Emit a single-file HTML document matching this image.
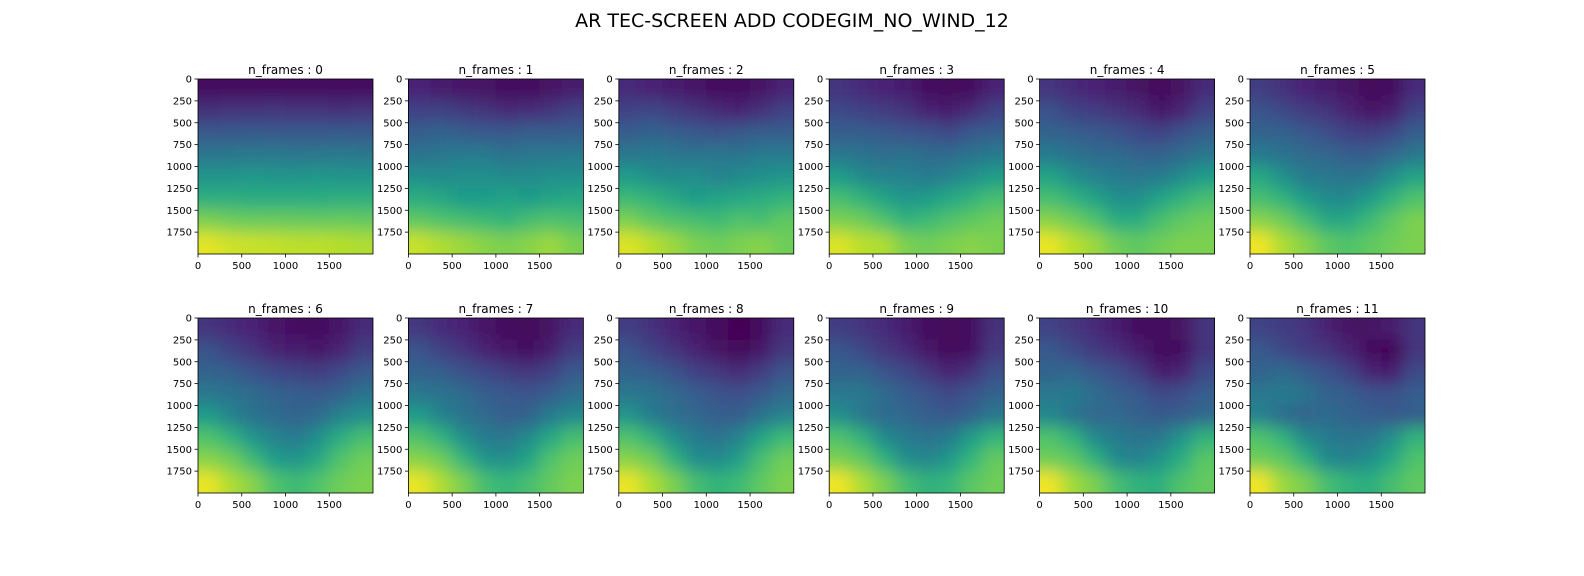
<!DOCTYPE html>
<html><head><meta charset="utf-8"><style>
html,body{margin:0;padding:0;background:#fff;}
svg{display:block;font-family:"DejaVu Sans","Liberation Sans",sans-serif;}
</style></head><body>
<svg id="fig" width="1584" height="576" viewBox="0 0 1584 576" xmlns="http://www.w3.org/2000/svg">
<rect width="1584" height="576" fill="#fff"/>
<text x="792" y="27" text-anchor="middle" font-size="19">AR TEC-SCREEN ADD CODEGIM_NO_WIND_12</text>
<defs><filter id="bl" x="-20%" y="-20%" width="140%" height="140%"><feGaussianBlur stdDeviation="8"/></filter></defs>
</svg>
<script>
const frameLabels=[0,1,2,3,4,5,6,7,8,9,10,11];
const yTicks=[0,250,500,750,1000,1250,1500,1750];
const xTicks=[0,500,1000,1500];
const f0=[[.03,.03,.03,.04,.03,.03,.03,.04],[.14,.15,.15,.16,.15,.15,.14,.15],[.28,.28,.29,.28,.28,.28,.29,.28],[.4,.4,.41,.41,.4,.4,.41,.4],[.52,.52,.53,.52,.52,.53,.52,.52],[.63,.63,.62,.62,.62,.62,.63,.63],[.8,.78,.77,.77,.77,.76,.77,.76],[.96,.93,.92,.91,.9,.9,.89,.88]];
const f1=[[.1,.08,.06,.05,.03,.03,.05,.08],[.2,.2,.17,.15,.12,.13,.15,.2],[.3,.32,.3,.28,.28,.3,.3,.3],[.38,.4,.42,.42,.38,.4,.4,.42],[.5,.48,.5,.5,.48,.48,.5,.5],[.62,.6,.55,.55,.58,.55,.58,.6],[.75,.72,.7,.68,.65,.7,.72,.7],[.92,.88,.85,.82,.8,.82,.85,.8]];
const f2=[[.12,.1,.08,.06,.03,.04,.05,.1],[.2,.22,.18,.15,.12,.1,.14,.2],[.3,.32,.3,.28,.26,.28,.3,.3],[.4,.42,.4,.38,.4,.38,.42,.42],[.55,.5,.48,.5,.45,.48,.5,.52],[.68,.65,.6,.55,.58,.6,.62,.65],[.8,.75,.72,.7,.68,.72,.7,.75],[.95,.9,.85,.8,.78,.8,.82,.78]];
const f3=[[.15,.12,.1,.08,.04,.02,.04,.1],[.22,.2,.18,.15,.1,.08,.12,.2],[.3,.3,.28,.26,.25,.22,.28,.3],[.4,.38,.36,.38,.35,.35,.38,.42],[.55,.48,.45,.45,.42,.45,.5,.55],[.7,.65,.58,.52,.55,.6,.65,.7],[.8,.78,.72,.65,.68,.72,.75,.78],[.95,.9,.88,.8,.78,.8,.82,.8]];
const f4=[[.15,.12,.1,.08,.05,.02,.05,.12],[.25,.2,.18,.15,.12,.06,.1,.2],[.32,.3,.28,.25,.22,.2,.25,.3],[.42,.38,.35,.35,.32,.32,.35,.4],[.58,.5,.45,.42,.4,.42,.48,.55],[.7,.65,.58,.5,.5,.58,.65,.7],[.82,.78,.72,.62,.62,.7,.75,.78],[.97,.9,.85,.78,.75,.78,.8,.8]];
const f5=[[.18,.14,.1,.08,.05,.02,.04,.12],[.26,.22,.18,.15,.1,.05,.08,.2],[.32,.32,.28,.24,.2,.18,.22,.3],[.42,.38,.34,.33,.3,.3,.34,.4],[.6,.5,.42,.4,.38,.4,.5,.58],[.7,.65,.55,.48,.48,.55,.65,.72],[.82,.78,.7,.6,.6,.68,.75,.8],[.98,.88,.82,.75,.72,.75,.78,.8]];
const f6=[[.15,.12,.1,.06,.04,.04,.06,.12],[.25,.2,.15,.1,.08,.06,.1,.18],[.32,.3,.25,.22,.2,.18,.22,.28],[.4,.38,.35,.32,.3,.28,.32,.38],[.55,.45,.38,.35,.32,.35,.45,.5],[.72,.65,.52,.45,.42,.5,.62,.7],[.82,.78,.68,.55,.52,.6,.72,.78],[.97,.88,.82,.72,.68,.72,.78,.8]];
const f7=[[.16,.12,.1,.06,.03,.02,.05,.12],[.26,.2,.15,.1,.06,.04,.08,.18],[.32,.3,.25,.22,.18,.15,.2,.28],[.4,.38,.35,.3,.28,.26,.3,.36],[.55,.45,.38,.34,.3,.32,.42,.48],[.72,.65,.5,.42,.4,.48,.6,.7],[.82,.78,.66,.52,.5,.58,.72,.78],[.97,.88,.8,.7,.66,.7,.76,.8]];
const f8=[[.18,.14,.1,.06,.03,0,.03,.12],[.26,.2,.15,.1,.05,.02,.06,.16],[.32,.3,.25,.2,.16,.12,.18,.26],[.4,.38,.34,.3,.26,.24,.28,.34],[.52,.42,.36,.33,.3,.3,.38,.45],[.72,.64,.5,.42,.38,.45,.58,.68],[.82,.78,.65,.5,.48,.56,.7,.78],[.97,.88,.8,.7,.65,.68,.75,.8]];
const f9=[[.18,.15,.12,.08,.04,.02,.03,.14],[.27,.22,.16,.12,.06,.02,.04,.16],[.32,.32,.26,.22,.16,.1,.14,.24],[.4,.4,.35,.3,.26,.22,.26,.32],[.5,.4,.35,.33,.3,.28,.32,.4],[.72,.64,.48,.42,.38,.42,.55,.66],[.8,.76,.65,.5,.46,.54,.66,.76],[.98,.88,.8,.7,.64,.66,.74,.78]];
const f10=[[.2,.16,.12,.08,.04,.03,.05,.15],[.28,.22,.17,.13,.08,.02,.03,.15],[.32,.33,.28,.24,.18,.08,.1,.22],[.4,.42,.36,.31,.28,.22,.24,.3],[.47,.38,.33,.34,.31,.29,.3,.34],[.72,.65,.48,.42,.38,.4,.52,.65],[.78,.75,.65,.48,.45,.52,.62,.74],[.98,.86,.8,.7,.64,.63,.72,.76]];
const f11=[[.2,.18,.15,.1,.05,.05,.08,.15],[.28,.22,.18,.15,.1,.03,0,.15],[.32,.35,.3,.25,.2,.1,.08,.22],[.4,.42,.38,.32,.3,.25,.25,.3],[.45,.35,.32,.35,.32,.3,.28,.3],[.72,.65,.48,.42,.38,.4,.5,.65],[.78,.75,.65,.48,.45,.5,.6,.72],[.98,.85,.8,.7,.65,.62,.7,.75]];
const frames=[f0,f1,f2,f3,f4,f5,f6,f7,f8,f9,f10,f11];

const vir=[[68,1,84],[72,40,120],[62,74,137],[49,104,142],[38,130,142],[31,158,137],[53,183,121],[109,205,89],[180,222,44],[253,231,37]];
function cmap(v){v=Math.max(0,Math.min(1,v))*(vir.length-1);const i=Math.min(vir.length-2,Math.floor(v)),t=v-i;const a=vir[i],b=vir[i+1];return 'rgb('+a.map((c,k)=>Math.round(c+(b[k]-c)*t)).join(',')+')';}
const NS='http://www.w3.org/2000/svg';
const svg=document.getElementById('fig');
function mk(tag,attrs,parent){const e=document.createElementNS(NS,tag);for(const k in attrs)e.setAttribute(k,attrs[k]);(parent||svg).appendChild(e);return e;}
const S=175, X0=198, DX=210.4, Y0=79, DY=239, DMAX=2000, PAD=30;
const defs=svg.querySelector('defs');
frames.forEach((grid,fi)=>{
  const col=fi%6,row=Math.floor(fi/6);
  const px=X0+col*DX, py=Y0+row*DY;
  const sx=v=>px+v/DMAX*S, sy=v=>py+v/DMAX*S;
  const g=mk('g',{});
  
  
  const cp=mk('clipPath',{id:'cp'+fi},defs);
  mk('rect',{x:px,y:py,width:S,height:S},cp);
  const clipG=mk('g',{'clip-path':'url(#cp'+fi+')'},g);
  const hm=mk('g',{filter:'url(#bl)'},clipG);
  
  
  const n=grid.length,m=grid[0].length;
  grid.forEach((r,ri)=>r.forEach((v,ci)=>{
    let x1=sx(ci*DMAX/m)-0.3, x2=sx((ci+1)*DMAX/m)+0.3;
    let y1=sy(ri*DMAX/n)-0.3, y2=sy((ri+1)*DMAX/n)+0.3;
    if(ci===0)x1-=PAD; if(ci===m-1)x2+=PAD;
    if(ri===0)y1-=PAD; if(ri===n-1)y2+=PAD;
    const c=mk('rect',{x:x1,y:y1,width:x2-x1,height:y2-y1,fill:cmap(v)},hm);
    
    
  }));
  const fr=mk('rect',{x:px,y:py,width:S,height:S,fill:'none',stroke:'#000','stroke-width':0.8},g);
  
  
  const t=mk('text',{x:px+S/2,y:py-5,'text-anchor':'middle','font-size':12},g);
  t.textContent='n_frames : '+frameLabels[fi];
  
  
  yTicks.forEach(v=>{
    const y=sy(v);
    mk('line',{x1:px,x2:px-3.5,y1:y,y2:y,stroke:'#000','stroke-width':0.8},g);
    const l=mk('text',{x:px-6,y:y+3.5,'text-anchor':'end','font-size':10},g);
    l.textContent=v;
    
    
  });
  xTicks.forEach(v=>{
    const x=sx(v);
    mk('line',{x1:x,x2:x,y1:py+S,y2:py+S+3.5,stroke:'#000','stroke-width':0.8},g);
    const l=mk('text',{x:x,y:py+S+15,'text-anchor':'middle','font-size':10},g);
    l.textContent=v;
    
    
  });
});
</script>
</body></html>
